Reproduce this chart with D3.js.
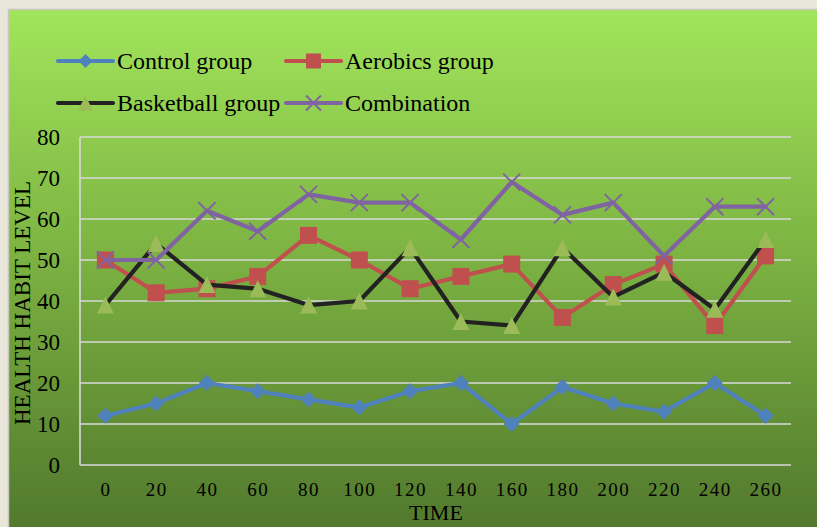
<!DOCTYPE html>
<html>
<head>
<meta charset="utf-8">
<script src="https://cdn.jsdelivr.net/npm/d3@7/dist/d3.min.js"></script>
<style>
  html, body { margin: 0; padding: 0; background: #e9e6da; }
  svg { display: block; }
  svg text { font-family: "Liberation Serif", "DejaVu Serif", serif !important; fill: #000; }
</style>
</head>
<body>
<svg id="chart" width="817" height="527"></svg>
<script>
// Time points (x categories)
const times = ["0", "20", "40", "60", "80", "100", "120", "140", "160", "180", "200", "220", "240", "260"];

// Health habit level per group
const controlGroup    = [12, 15, 20, 18, 16, 14, 18, 20, 10, 19, 15, 13, 20, 12];
const aerobicsGroup   = [50, 42, 43, 46, 56, 50, 43, 46, 49, 36, 44, 49, 34, 51];
const basketballGroup = [39, 54, 44, 43, 39, 40, 53, 35, 34, 53, 41, 47, 38, 55];
const combination     = [50, 50, 62, 57, 66, 64, 64, 55, 69, 61, 64, 51, 63, 63];

const yTicks = [0, 10, 20, 30, 40, 50, 60, 70, 80];

const seriesNames = ["Control group", "Aerobics group", "Basketball group", "Combination"];

const series = [
  { name: seriesNames[0], values: controlGroup,    line: "#4f81bd", marker: "diamond",  fill: "#4f81bd" },
  { name: seriesNames[1], values: aerobicsGroup,   line: "#c0504d", marker: "square",   fill: "#c0504d" },
  { name: seriesNames[2], values: basketballGroup, line: "#222222", marker: "triangle", fill: "#9bbb59" },
  { name: seriesNames[3], values: combination,     line: "#8064a2", marker: "cross",    fill: "#8064a2" }
];

const FONT = "'Liberation Serif', 'DejaVu Serif', serif";
const svg = d3.select("#chart");

// Panel background gradient
const defs = svg.append("defs");
const grad = defs.append("linearGradient")
  .attr("id", "panelGrad").attr("x1", 0).attr("y1", 0).attr("x2", 0).attr("y2", 1);
grad.append("stop").attr("offset", "0%").attr("stop-color", "#a2e55b");
grad.append("stop").attr("offset", "45%").attr("stop-color", "#7db443");
grad.append("stop").attr("offset", "100%").attr("stop-color", "#50762c");

svg.append("rect")
  .attr("x", 8.5).attr("y", 9.5).attr("width", 820).attr("height", 530)
  .attr("fill", "url(#panelGrad)")
  .attr("stroke", "#c8c8bf").attr("stroke-width", 1.5);

// Scales
const x = d3.scalePoint().domain(times).range([80, 791]).padding(0.5);
const y = d3.scaleLinear().domain([0, 80]).range([465, 137]);

// Gridlines
const grid = svg.append("g");
grid.selectAll("line.h").data(yTicks).join("line")
  .attr("x1", 80).attr("x2", 791)
  .attr("y1", d => y(d)).attr("y2", d => y(d))
  .attr("stroke", "#d9d9d9").attr("stroke-width", 1.6);
grid.append("line")
  .attr("x1", 80).attr("x2", 80).attr("y1", y(80)).attr("y2", y(0))
  .attr("stroke", "#d9d9d9").attr("stroke-width", 1.6);

// Y axis labels
const yAxis = d3.axisLeft(y).tickValues(yTicks).tickSize(0).tickPadding(20);
const yg = svg.append("g").attr("transform", "translate(80,0)").call(yAxis)
  .attr("font-family", FONT).attr("font-size", 23);
yg.select(".domain").remove();
yg.selectAll("text").attr("fill", "#000");

// X axis labels
const xAxis = d3.axisBottom(x).tickSize(0).tickPadding(18);
const xg = svg.append("g").attr("transform", `translate(0,${y(0)})`).call(xAxis)
  .attr("font-family", FONT).attr("font-size", 19);
xg.select(".domain").remove();
xg.selectAll("text").attr("fill", "#000").style("letter-spacing", "1.5px");

// Axis titles
svg.append("text")
  .attr("x", 436).attr("y", 520)
  .attr("text-anchor", "middle").attr("font-size", 22)
  .text("TIME");
svg.append("text")
  .attr("transform", `translate(30,${(y(0) + y(80)) / 2 + 2}) rotate(-90)`)
  .attr("text-anchor", "middle").attr("font-size", 23)
  .text("HEALTH HABIT LEVEL");

// Marker shapes
function drawMarker(g, type, color, cx, cy, size) {
  const s = size / 2;
  if (type === "diamond") {
    g.append("path")
      .attr("d", `M${cx},${cy - s}L${cx + s},${cy}L${cx},${cy + s}L${cx - s},${cy}Z`)
      .attr("fill", color);
  } else if (type === "square") {
    g.append("rect")
      .attr("x", cx - s).attr("y", cy - s).attr("width", size).attr("height", size)
      .attr("fill", color);
  } else if (type === "triangle") {
    g.append("path")
      .attr("d", `M${cx},${cy - s}L${cx + s},${cy + s}L${cx - s},${cy + s}Z`)
      .attr("fill", color);
  } else if (type === "cross") {
    g.append("path")
      .attr("d", `M${cx - s},${cy - s}L${cx + s},${cy + s}M${cx + s},${cy - s}L${cx - s},${cy + s}`)
      .attr("stroke", color).attr("stroke-width", 2).attr("fill", "none");
  }
}

const markerSize = { diamond: 16, square: 17, triangle: 17, cross: 17 };

// Series lines and markers
const line = d3.line().x((d, i) => x(times[i])).y(d => y(d));
series.forEach(s => {
  const g = svg.append("g");
  g.append("path")
    .datum(s.values)
    .attr("d", line)
    .attr("fill", "none")
    .attr("stroke", s.line)
    .attr("stroke-width", 4.2)
    .attr("stroke-linejoin", "round")
    .attr("stroke-linecap", "round");
  s.values.forEach((v, i) => drawMarker(g, s.marker, s.fill, x(times[i]), y(v), markerSize[s.marker]));
});

// Legend
const legendPos = [[58, 61], [286, 61], [58, 103], [286, 103]];
series.forEach((s, i) => {
  const [lx, ly] = legendPos[i];
  const g = svg.append("g");
  g.append("line")
    .attr("x1", lx).attr("x2", lx + 55).attr("y1", ly).attr("y2", ly)
    .attr("stroke", s.line).attr("stroke-width", 4.2).attr("stroke-linecap", "round");
  drawMarker(g, s.marker, s.fill, lx + 27.5, ly, s.marker === "diamond" ? 14 : 15);
  g.append("text")
    .attr("x", lx + 59).attr("y", ly + 8)
    .attr("font-size", 24)
    .text(s.name);
});
</script>
</body>
</html>
